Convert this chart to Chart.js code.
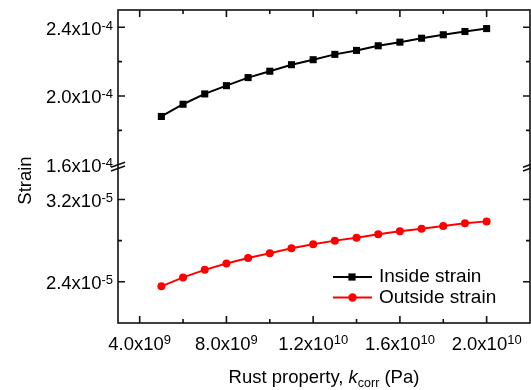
<!DOCTYPE html>
<html>
<head>
<meta charset="utf-8">
<script src="https://cdn.jsdelivr.net/npm/chart.js@4"></script>
<style>
  html, body { margin: 0; padding: 0; background: #fff; }
  #wrap { width: 531px; height: 390px; }
</style>
</head>
<body>
<div id="wrap"><canvas id="chart" width="531" height="390"></canvas></div>
<script>
// Strain vs rust property k_corr, broken y axis
const kCorr = [5e9, 6e9, 7e9, 8e9, 9e9, 1.0e10, 1.1e10, 1.2e10, 1.3e10, 1.4e10, 1.5e10, 1.6e10, 1.7e10, 1.8e10, 1.9e10, 2.0e10];
const insideStrain = [1.881e-4, 1.952e-4, 2.012e-4, 2.060e-4, 2.107e-4, 2.144e-4, 2.182e-4, 2.211e-4, 2.242e-4, 2.265e-4, 2.292e-4, 2.313e-4, 2.336e-4, 2.356e-4, 2.375e-4, 2.392e-4];
const outsideStrain = [2.356e-5, 2.443e-5, 2.516e-5, 2.578e-5, 2.632e-5, 2.678e-5, 2.726e-5, 2.765e-5, 2.800e-5, 2.829e-5, 2.861e-5, 2.890e-5, 2.916e-5, 2.942e-5, 2.968e-5, 2.987e-5];

const xTicks = [4e9, 8e9, 1.2e10, 1.6e10, 2.0e10];
const xTickLabels = ['4.0x10^9', '8.0x10^9', '1.2x10^10', '1.6x10^10', '2.0x10^10'];
const xMinorTicks = [6e9, 1.0e10, 1.4e10, 1.8e10];

// upper segment of the broken axis
const topTicks = [2.4e-4, 2.0e-4, 1.6e-4];
const topTickLabels = ['2.4x10^-4', '2.0x10^-4', '1.6x10^-4'];
const topMinorTicks = [2.2e-4, 1.8e-4];
const topBreak = 1.6e-4;

// lower segment
const botTicks = [3.2e-5, 2.4e-5];
const botTickLabels = ['3.2x10^-5', '2.4x10^-5'];
const botMinorTicks = [2.8e-5];
const botBreak = 3.5e-5;

const seriesNames = ['Inside strain', 'Outside strain'];

const FONT = '"Liberation Sans", Arial, sans-serif';

function drawSci(ctx, label, x, y, align, raise) {
    const [mant, exp] = label.split('^');
    ctx.font = '18.5px ' + FONT;
    const w1 = ctx.measureText(mant).width;
    ctx.font = '13px ' + FONT;
    const w2 = ctx.measureText(exp).width;
    let left = x;
    if (align === 'right') left = x - w1 - w2;
    if (align === 'center') left = x - (w1 + w2) / 2;
    ctx.textAlign = 'left';
    ctx.textBaseline = 'alphabetic';
    ctx.font = '18.5px ' + FONT;
    ctx.fillText(mant, left, y);
    ctx.font = '13px ' + FONT;
    ctx.fillText(exp, left + w1, y - raise);
}

const framePlugin = {
    id: 'frame',
    afterDatasetsDraw(chart) {
        const { ctx, chartArea: a, scales } = chart;
        const xs = scales.x, yt = scales.yTop, yb = scales.yBot;
        ctx.save();
        ctx.strokeStyle = '#111';
        ctx.fillStyle = '#000';
        ctx.lineWidth = 1.6;

        // frame
        ctx.strokeRect(a.left, a.top, a.right - a.left, a.bottom - a.top);

        const hTick = (px, len) => {
            ctx.beginPath();
            ctx.moveTo(px, a.top); ctx.lineTo(px, a.top + len);
            ctx.moveTo(px, a.bottom); ctx.lineTo(px, a.bottom - len);
            ctx.stroke();
        };
        const vTick = (py, len) => {
            ctx.beginPath();
            ctx.moveTo(a.left, py); ctx.lineTo(a.left + len, py);
            ctx.moveTo(a.right, py); ctx.lineTo(a.right - len, py);
            ctx.stroke();
        };

        xTicks.forEach(v => hTick(xs.getPixelForValue(v), 7));
        xMinorTicks.forEach(v => hTick(xs.getPixelForValue(v), 4));
        topTicks.forEach(v => { if (v !== topBreak) vTick(yt.getPixelForValue(v), 7); });
        topMinorTicks.forEach(v => vTick(yt.getPixelForValue(v), 4));
        botTicks.forEach(v => vTick(yb.getPixelForValue(v), 7));
        botMinorTicks.forEach(v => vTick(yb.getPixelForValue(v), 4));

        // break marks
        const b1 = yt.getPixelForValue(topBreak);
        const b2 = yb.getPixelForValue(botBreak);
        [a.left, a.right].forEach(sx => {
            ctx.beginPath();
            ctx.moveTo(sx - 7, b1 + 2.5); ctx.lineTo(sx + 7, b1 - 2.5);
            ctx.moveTo(sx - 7, b2 + 2.5); ctx.lineTo(sx + 7, b2 - 2.5);
            ctx.stroke();
        });

        // tick labels
        topTicks.forEach((v, i) => drawSci(ctx, topTickLabels[i], a.left - 5, yt.getPixelForValue(v) + 7.5, 'right', 5));
        botTicks.forEach((v, i) => drawSci(ctx, botTickLabels[i], a.left - 5, yb.getPixelForValue(v) + 7.5, 'right', 5));
        xTicks.forEach((v, i) => drawSci(ctx, xTickLabels[i], xs.getPixelForValue(v), a.bottom + 27, 'center', 6));

        // axis titles
        ctx.font = '18.5px ' + FONT;
        ctx.textBaseline = 'alphabetic';
        ctx.save();
        ctx.translate(31, (a.top + a.bottom) / 2 + 14);
        ctx.rotate(-Math.PI / 2);
        ctx.textAlign = 'center';
        ctx.fillText('Strain', 0, 0);
        ctx.restore();

        const p1 = 'Rust property, ', p2 = 'k', p3 = 'corr', p4 = ' (Pa)';
        ctx.font = '18.5px ' + FONT;
        const w1 = ctx.measureText(p1).width, w4 = ctx.measureText(p4).width;
        ctx.font = 'italic 18.5px ' + FONT;
        const w2 = ctx.measureText(p2).width;
        ctx.font = '12.5px ' + FONT;
        const w3 = ctx.measureText(p3).width;
        let tx = 324 - (w1 + w2 + w3 + w4) / 2;
        const ty = 383;
        ctx.textAlign = 'left';
        ctx.font = '18.5px ' + FONT; ctx.fillText(p1, tx, ty); tx += w1;
        ctx.font = 'italic 18.5px ' + FONT; ctx.fillText(p2, tx, ty); tx += w2;
        ctx.font = '12.5px ' + FONT; ctx.fillText(p3, tx, ty + 4); tx += w3;
        ctx.font = '18.5px ' + FONT; ctx.fillText(p4, tx, ty);

        // legend
        const legend = [
            { color: '#000', style: 'rect', y: 277 },
            { color: '#ff0000', style: 'circle', y: 297.5 }
        ];
        legend.forEach((item, i) => {
            ctx.strokeStyle = item.color;
            ctx.fillStyle = item.color;
            ctx.lineWidth = 2;
            ctx.beginPath();
            ctx.moveTo(333, item.y); ctx.lineTo(372, item.y);
            ctx.stroke();
            if (item.style === 'rect') {
                ctx.fillRect(352 - 3.6, item.y - 3.6, 7.2, 7.2);
            } else {
                ctx.beginPath();
                ctx.arc(352.5, item.y, 4.2, 0, Math.PI * 2);
                ctx.fill();
            }
            ctx.fillStyle = '#000';
            ctx.font = '19px ' + FONT;
            ctx.textAlign = 'left';
            ctx.textBaseline = 'middle';
            ctx.fillText(seriesNames[i], 379, item.y);
        });
        ctx.restore();
    }
};

const chart = new Chart(document.getElementById('chart'), {
    type: 'line',
    data: {
        datasets: [
            {
                label: seriesNames[0],
                data: kCorr.map((k, i) => ({ x: k, y: insideStrain[i] })),
                yAxisID: 'yTop',
                borderColor: '#000',
                backgroundColor: '#000',
                borderWidth: 2,
                pointStyle: 'rect',
                pointRadius: 5,
                pointBorderWidth: 0,
                tension: 0
            },
            {
                label: seriesNames[1],
                data: kCorr.map((k, i) => ({ x: k, y: outsideStrain[i] })),
                yAxisID: 'yBot',
                borderColor: '#ff0000',
                backgroundColor: '#ff0000',
                borderWidth: 2,
                pointStyle: 'circle',
                pointRadius: 4,
                pointBorderWidth: 0,
                tension: 0
            }
        ]
    },
    options: {
        responsive: false,
        animation: false,
        layout: { autoPadding: false, padding: { left: 118, right: 1, top: 10, bottom: 67 } },
        plugins: { legend: { display: false }, tooltip: { enabled: false } },
        scales: {
            x: { type: 'linear', min: 3e9, max: 2.2e10, display: false },
            // each segment's scale spans the full plot height; the break sits at the middle
            yTop: { type: 'linear', min: 0.68e-4, max: 2.5e-4, display: false },
            yBot: { type: 'linear', min: 2.0e-5, max: 5.04e-5, display: false }
        }
    },
    plugins: [framePlugin]
});
</script>
</body>
</html>
